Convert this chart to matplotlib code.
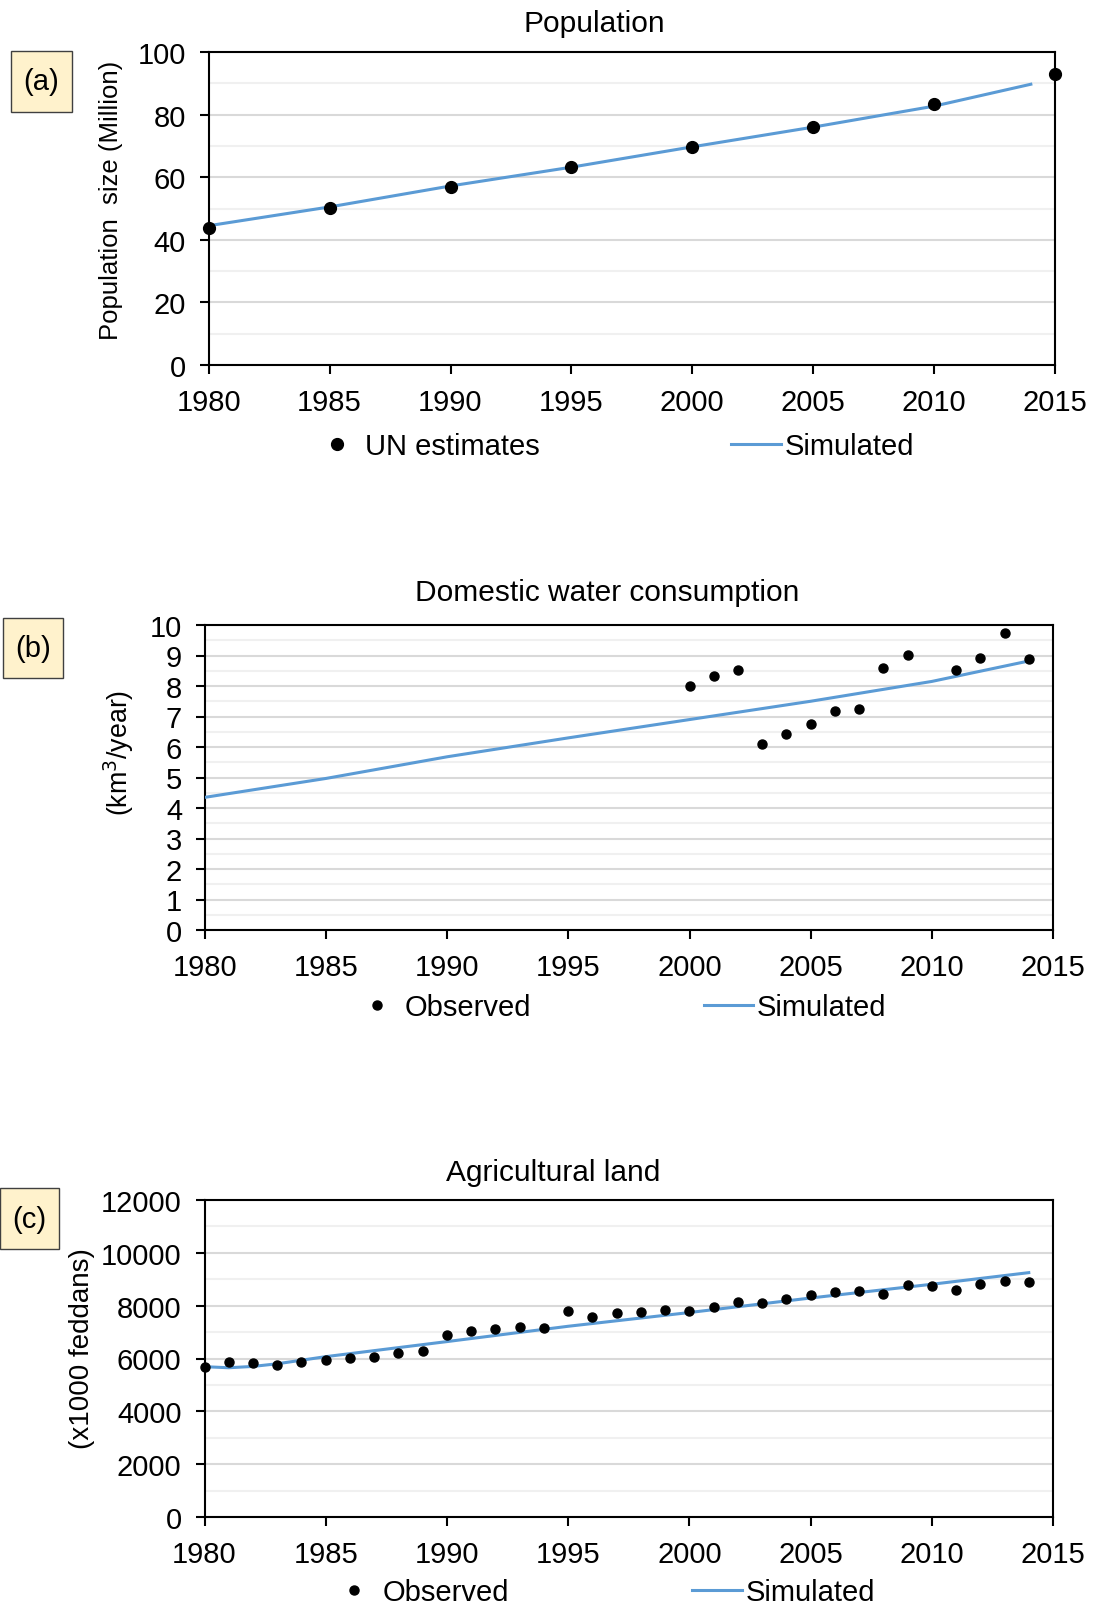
import matplotlib
matplotlib.use("Agg")
import matplotlib.pyplot as plt
from matplotlib.patches import Rectangle
from matplotlib.ticker import MultipleLocator

plt.rcParams["font.family"] = ["Liberation Sans", "DejaVu Sans"]

# (a) population
pop_years = [1980, 1985, 1990, 1995, 2000, 2005, 2010, 2015]
pop_un = [43.9, 50.3, 56.9, 63.2, 69.5, 76.0, 83.5, 93.1]
pop_sim_years = [1980, 1985, 1990, 1995, 2000, 2005, 2010, 2014]
pop_sim = [44.5, 50.5, 57.2, 63.2, 69.7, 76.0, 82.7, 89.7]

# (b) domestic water consumption
water_years = [2000, 2001, 2002, 2003, 2004, 2005, 2006, 2007, 2008, 2009,
               2011, 2012, 2013, 2014]
water_obs = [8.00, 8.33, 8.54, 6.10, 6.42, 6.74, 7.17, 7.25, 8.58, 9.02,
             8.52, 8.92, 9.75, 8.87]
water_sim_years = [1980, 1985, 1990, 1995, 2000, 2005, 2010, 2014]
water_sim = [4.35, 4.97, 5.68, 6.30, 6.90, 7.50, 8.15, 8.82]

# (c) agricultural land
agri_years = list(range(1980, 2015))
agri_obs = [5693, 5867, 5818, 5769, 5867, 5943, 6019, 6072, 6197, 6273,
            6905, 7030, 7106, 7181, 7143, 7813, 7571, 7737, 7775, 7851,
            7813, 7938, 8139, 8101, 8268, 8392, 8506, 8555, 8442, 8771,
            8733, 8608, 8820, 8934, 8896]
agri_sim_years = [1980, 1981, 1982, 1983, 1985, 1990, 1995, 2000, 2005, 2010, 2014]
agri_sim = [5690, 5650, 5700, 5800, 6070, 6640, 7220, 7740, 8290, 8810, 9250]

W, H = 1094, 1606
fig = plt.figure(figsize=(W / 100, H / 100), dpi=100)

blue = "#5B9BD5"
fs = 21


def px_axes(x0, y0, x1, y1):
    return fig.add_axes([x0 / W, 1 - y1 / H, (x1 - x0) / W, (y1 - y0) / H])


def style(ax, ymax, major, minor):
    ax.set_xlim(1980, 2015)
    ax.set_ylim(0, ymax)
    ax.xaxis.set_major_locator(MultipleLocator(5))
    ax.yaxis.set_major_locator(MultipleLocator(major))
    ax.yaxis.set_minor_locator(MultipleLocator(minor))
    ax.grid(which="major", axis="y", color="#d9d9d9", lw=1.5)
    ax.grid(which="minor", axis="y", color="#f0f0f0", lw=1.5)
    ax.set_axisbelow(True)
    for s in ax.spines.values():
        s.set_linewidth(1.5)
    ax.tick_params(which="major", direction="out", length=6.5, width=1.5,
                   labelsize=fs, pad=10)
    ax.tick_params(which="minor", length=0)
    ax.tick_params(axis="x", pad=10)


def tag(label, x0, y0, x1, y1):
    fig.patches.append(Rectangle((x0 / W, 1 - y1 / H), (x1 - x0) / W, (y1 - y0) / H,
                                 transform=fig.transFigure, facecolor="#FFF2CC",
                                 edgecolor="#404040", lw=1))
    fig.text((x0 + x1) / 2 / W, 1 - (y0 + y1) / 2 / H, label, fontsize=fs,
             ha="center", va="center")


def legend(ax, handles, labels, cx, cy, gap):
    ax.legend(handles, labels, loc="center", bbox_to_anchor=(cx / W, 1 - cy / H),
              bbox_transform=fig.transFigure, ncol=2, frameon=False,
              fontsize=fs, handlelength=1.7, handletextpad=0.12,
              columnspacing=gap, borderpad=0)


# panel (a)
ax1 = px_axes(208.7, 53, 1055, 366)
style(ax1, 100, 20, 10)
l1, = ax1.plot(pop_sim_years, pop_sim, color=blue, lw=2.2, zorder=3)
d1, = ax1.plot(pop_years, pop_un, "o", color="black", ms=8.5, zorder=4,
               clip_on=False, linestyle="none")
ax1.set_ylabel("Population  size (Million)", fontsize=18.5)
ax1.yaxis.set_label_coords(-0.101, 0.53)
fig.text(594 / W, 1 - 24.5 / H, "Population", fontsize=21.5, ha="center", va="center")
legend(ax1, [d1, l1], ["UN estimates", "Simulated"], 613, 447, 6.55)
tag("(a)", 11, 52, 72, 113)

# panel (b)
ax2 = px_axes(205, 626, 1053, 931)
style(ax2, 10, 1, 0.5)
l2, = ax2.plot(water_sim_years, water_sim, color=blue, lw=2.2, zorder=3)
d2, = ax2.plot(water_years, water_obs, "o", color="black", ms=6.5, zorder=4,
               linestyle="none")
ax2.set_ylabel("(km$^3$/year)", fontsize=19.3)
ax2.yaxis.set_label_coords(-0.081, 0.585)
fig.text(607 / W, 1 - 593 / H, "Domestic water consumption", fontsize=21.5,
         ha="center", va="center")
legend(ax2, [d2, l2], ["Observed", "Simulated"], 619, 1008, 5.9)
tag("(b)", 2.5, 619, 63, 679)

# panel (c)
ax3 = px_axes(204.5, 1201, 1053, 1518)
style(ax3, 12000, 2000, 1000)
l3, = ax3.plot(agri_sim_years, agri_sim, color=blue, lw=2.2, zorder=3)
d3, = ax3.plot(agri_years, agri_obs, "o", color="black", ms=6.5, zorder=4,
               linestyle="none", clip_on=False)
ax3.set_ylabel("(x1000 feddans)", fontsize=20)
ax3.yaxis.set_label_coords(-0.1285, 0.535)
fig.text(553 / W, 1 - 1173 / H, "Agricultural land", fontsize=21.5,
         ha="center", va="center")
legend(ax3, [d3, l3], ["Observed", "Simulated"], 602, 1593, 6.3)
tag("(c)", 0, 1189, 59, 1250)

fig.savefig("out.png", dpi=100)
